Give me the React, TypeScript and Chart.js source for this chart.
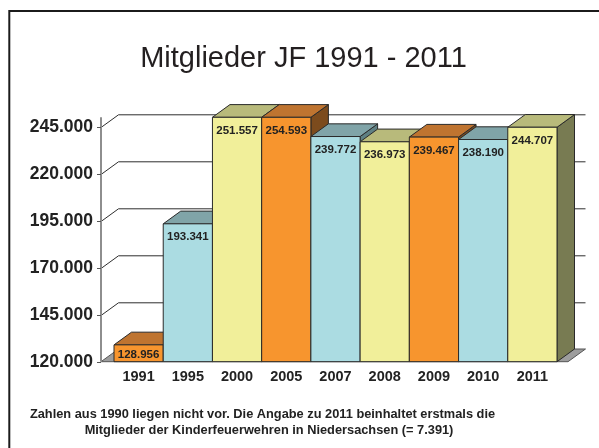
import React, { useEffect, useRef } from "react";
import { Chart, registerables } from "chart.js";

Chart.register(...registerables);

// ---- data ----
const categories = ["1991", "1995", "2000", "2005", "2007", "2008", "2009", "2010", "2011"];
const members = [128956, 193341, 251557, 254593, 239772, 236973, 239467, 238190, 244707];
const yTicks = [120000, 145000, 170000, 195000, 220000, 245000];
const yMin = 120000;
const yMax = 250000;
const titleText = "Mitglieder JF 1991 - 2011";
const footerLines = [
  "Zahlen aus 1990 liegen nicht vor. Die Angabe zu 2011 beinhaltet erstmals die",
  "Mitglieder der Kinderfeuerwehren in Niedersachsen (= 7.391)",
];

// ---- style ----
const FONT = "'Liberation Sans', Arial, Helvetica, sans-serif";
const palette = [
  { front: "#F7952E", top: "#BF7430", side: "#7C4B1D" }, // orange
  { front: "#ABDCE2", top: "#80A4A8", side: "#5F8083" }, // blue
  { front: "#F1EF9A", top: "#B8BA7B", side: "#787B52" }, // yellow
];
const DX = 17.5;
const DY = -12.7;
const FLOOR_PAD_L = 13;
const FLOOR_PAD_R = 11;
const EDGE = "#2a2a2a";

const fmt = (n: number) => String(n).replace(/\B(?=(\d{3})+(?!\d))/g, ".");

const poly = (ctx: CanvasRenderingContext2D, pts: number[][], fill: string, stroke = EDGE) => {
  ctx.beginPath();
  ctx.moveTo(pts[0][0], pts[0][1]);
  for (let i = 1; i < pts.length; i++) ctx.lineTo(pts[i][0], pts[i][1]);
  ctx.closePath();
  ctx.fillStyle = fill;
  ctx.fill();
  ctx.lineWidth = 1;
  ctx.strokeStyle = stroke;
  ctx.stroke();
};

const threeD = {
  id: "threeD",
  beforeDatasetsDraw(chart: any) {
    const { ctx, chartArea } = chart;
    const ys = chart.scales.y;
    const B = ys.getPixelForValue(yMin);
    const T = ys.getPixelForValue(yMax);
    const L = chartArea.left - FLOOR_PAD_L;
    const R = chartArea.right + FLOOR_PAD_R;
    ctx.save();
    // floor
    poly(ctx, [[L, B], [R, B], [R + DX, B + DY], [L + DX, B + DY]], "#9d9d9d", "#555");
    // gridlines (side + back wall)
    ctx.strokeStyle = "#2e2e2e";
    ctx.lineWidth = 1;
    yTicks.forEach((v) => {
      if (v === yMin) return;
      const y = Math.round(ys.getPixelForValue(v)) + 0.5;
      ctx.beginPath();
      ctx.moveTo(L, y);
      ctx.lineTo(L + DX, y + DY);
      ctx.lineTo(R + DX, y + DY);
      ctx.stroke();
    });
    // axis line
    ctx.strokeStyle = "#8e8e8e";
    ctx.lineWidth = 2;
    ctx.beginPath();
    ctx.moveTo(L, T);
    ctx.lineTo(L, B);
    ctx.stroke();
    // tick marks
    ctx.strokeStyle = "#555";
    ctx.lineWidth = 1;
    yTicks.forEach((v) => {
      const y = Math.round(ys.getPixelForValue(v)) + 0.5;
      ctx.beginPath();
      ctx.moveTo(L - 4, y);
      ctx.lineTo(L, y);
      ctx.stroke();
    });
    ctx.restore();
  },
  afterDatasetsDraw(chart: any) {
    const { ctx, chartArea } = chart;
    const meta = chart.getDatasetMeta(0);
    ctx.save();
    const rects = meta.data.map((el: any) => {
      const w = el.width;
      const left = el.x - w / 2;
      const right = el.x + w / 2;
      const top = Math.max(el.y, chartArea.top);
      const base = Math.min(el.base, chartArea.bottom);
      return { left, right, top, base };
    });
    rects.forEach((r: any, i: number) => {
      const c = palette[i % 3];
      poly(ctx, [[r.right, r.top], [r.right + DX, r.top + DY], [r.right + DX, r.base + DY], [r.right, r.base]], c.side);
      poly(ctx, [[r.left, r.top], [r.right, r.top], [r.right + DX, r.top + DY], [r.left + DX, r.top + DY]], c.top);
      poly(ctx, [[r.left, r.top], [r.right, r.top], [r.right, r.base], [r.left, r.base]], c.front);
    });
    // value labels
    ctx.font = `bold 11.5px ${FONT}`;
    ctx.fillStyle = "#222";
    ctx.textAlign = "center";
    ctx.textBaseline = "middle";
    rects.forEach((r: any, i: number) => {
      const cx = (r.left + r.right) / 2;
      const y = Math.min(r.top + 13.5, (r.top + r.base) / 2 + 1.5);
      ctx.fillText(fmt(members[i]), cx, y);
    });
    ctx.restore();
  },
  afterDraw(chart: any) {
    const { ctx } = chart;
    ctx.save();
    // frame
    ctx.strokeStyle = "#1b1b1b";
    ctx.lineWidth = 2;
    ctx.strokeRect(9.3, 11, 800, 800);
    // title
    ctx.fillStyle = "#231f20";
    ctx.font = `29px ${FONT}`;
    ctx.textAlign = "center";
    ctx.textBaseline = "alphabetic";
    ctx.fillText(titleText, 303.5, 66.5);
    // footer
    ctx.font = `bold 12.8px ${FONT}`;
    ctx.fillStyle = "#222";
    ctx.fillText(footerLines[0], 262.5, 417.5);
    ctx.fillText(footerLines[1], 269, 434);
    ctx.restore();
  },
};

export default function App() {
  const ref = useRef<HTMLCanvasElement>(null);
  useEffect(() => {
    if (!ref.current) return;
    const chart = new Chart(ref.current, {
      type: "bar",
      data: {
        labels: categories,
        datasets: [
          {
            data: members,
            backgroundColor: "rgba(0,0,0,0)",
            borderWidth: 0,
            barPercentage: 1,
            categoryPercentage: 1,
          },
        ],
      },
      options: {
        responsive: false,
        animation: false,
        events: [],
        layout: { padding: { top: 117.3, left: 0, right: 42, bottom: 448 - 361.7 - 30 } },
        plugins: { legend: { display: false }, tooltip: { enabled: false }, title: { display: false } },
        scales: {
          x: {
            type: "category",
            grid: { display: false, drawTicks: false },
            border: { display: false },
            ticks: { padding: 6.8, color: "#222", font: { family: FONT, size: 14.5, weight: "bold" } },
            afterFit: (s: any) => {
              s.height = 30;
            },
          },
          y: {
            type: "linear",
            min: yMin,
            max: yMax,
            grid: { display: false, drawTicks: false },
            border: { display: false },
            afterBuildTicks: (s: any) => {
              s.ticks = yTicks.map((v) => ({ value: v }));
            },
            ticks: {
              padding: 21,
              color: "#222",
              font: { family: FONT, size: 17.5, weight: "bold" },
              callback: (v: any) => fmt(Number(v)),
            },
            afterFit: (s: any) => {
              s.width = 114;
            },
          },
        },
      },
      plugins: [threeD],
    });
    return () => chart.destroy();
  }, []);
  return (
    <div style={{ position: "fixed", left: 0, top: 0, width: 599, height: 448, background: "#fff" }}>
      <canvas ref={ref} width={599} height={448} style={{ display: "block" }} />
    </div>
  );
}
